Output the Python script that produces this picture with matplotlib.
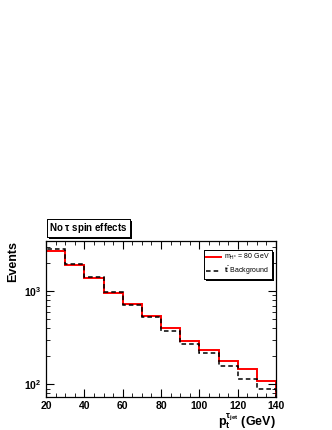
import numpy as np
import matplotlib
matplotlib.use("Agg")
import matplotlib.pyplot as plt
import matplotlib.patheffects as pe
from matplotlib.ticker import MultipleLocator, LogLocator, NullFormatter

plt.rcParams['font.family'] = ['Liberation Sans', 'DejaVu Sans']
plt.rcParams['mathtext.fontset'] = 'custom'
plt.rcParams['mathtext.rm'] = 'Liberation Sans'
plt.rcParams['mathtext.it'] = 'Liberation Sans'
plt.rcParams['mathtext.bf'] = 'Liberation Sans:bold'

edges = [20, 30, 40, 50, 60, 70, 80, 90, 100, 110, 120, 130, 140]
signal = [2670, 1920, 1400, 960, 733, 537, 401, 294, 234, 180, 147, 108]
background = [2870, 1970, 1420, 984, 710, 533, 375, 271, 216, 159, 115, 88]

fig = plt.figure(figsize=(3.32, 4.30), dpi=100)
ax = fig.add_axes([0.1386, 0.0767, 0.6928, 0.3628])

ax.stairs(signal, edges, color='#ff0000', lw=1.4, label=r'm$_{H^{\pm}}$ = 80 GeV')
ax.stairs(background, edges, color='black', lw=1.1, ls=(0, (3, 2)),
          label=r't$\bar{\mathrm{t}}$ Background')

ax.set_yscale('log')
ax.set_xlim(20, 140)
ax.set_ylim(73, 3460)

ax.xaxis.set_major_locator(MultipleLocator(20))
ax.xaxis.set_minor_locator(MultipleLocator(5))
ax.yaxis.set_major_locator(LogLocator(base=10))
ax.yaxis.set_minor_locator(LogLocator(base=10, subs=np.arange(2, 10)))
ax.yaxis.set_minor_formatter(NullFormatter())
ax.tick_params(which='both', direction='in', top=True, right=True, labelsize=7.5, pad=3)
ax.tick_params(which='major', length=6, width=0.8)
ax.tick_params(which='minor', length=3, width=0.6)
for lbl in ax.get_xticklabels() + ax.get_yticklabels():
    lbl.set_fontweight('bold')
for s in ax.spines.values():
    s.set_linewidth(0.9)

ax.set_ylabel('Events', loc='top', fontsize=9, fontweight='bold', labelpad=4)
ax.set_xlabel(r'$\mathbf{p_t^{\tau_{jet}}}$ (GeV)', loc='right', fontsize=9,
              fontweight='bold', labelpad=0)

leg = ax.legend(loc='upper right', bbox_to_anchor=(0.983, 0.943), fontsize=5,
                frameon=True, fancybox=False, shadow=False,
                edgecolor='black', framealpha=1, handlelength=2.1,
                borderpad=0.3, labelspacing=0.35, handletextpad=0.5, borderaxespad=0)
leg.get_frame().set_linewidth(0.7)
leg.get_frame().set_path_effects([
    pe.withSimplePatchShadow(offset=(1.5, -1.5), shadow_rgbFace='black', alpha=1),
    pe.Normal()])

title = fig.text(0.148, 0.47, r'No $\mathbf{\tau}$ spin effects', fontsize=7, fontweight='bold',
                 va='center', ha='left',
                 bbox=dict(boxstyle='square,pad=0.2', fc='white', ec='black', lw=0.7))
title.get_bbox_patch().set_path_effects([
    pe.withSimplePatchShadow(offset=(1.5, -1.5), shadow_rgbFace='black', alpha=1),
    pe.Normal()])

fig.savefig('out.png', dpi=100)
